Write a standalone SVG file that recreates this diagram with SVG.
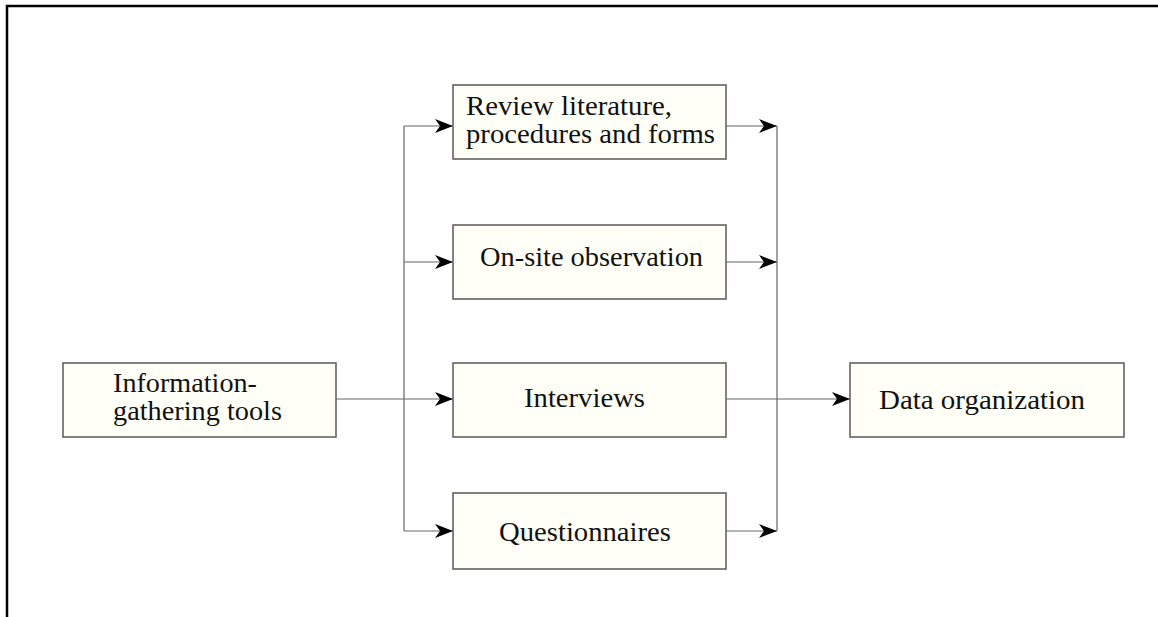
<svg xmlns="http://www.w3.org/2000/svg" width="1158" height="617" viewBox="0 0 1158 617">
<style>
.box{fill:#fffff7;stroke:#5a5a5a;stroke-width:1.5}
.t{font-family:"Liberation Serif","Times New Roman",serif;font-size:28px;fill:#111}
.c{fill:none;stroke:#666;stroke-width:1.2}
</style>
<defs>
<marker id="ah" viewBox="0 0 18 14" refX="18" refY="7" markerWidth="18" markerHeight="14" markerUnits="userSpaceOnUse" orient="auto">
<path d="M0,0 L18,7 L0,14 L5,7 Z" fill="#000"/>
</marker>
</defs>
<rect width="1158" height="617" fill="#fff"/>
<path d="M7,617 V6 H1158" fill="none" stroke="#000" stroke-width="2.5"/>
<g id="connectors">
<path class="c" d="M336,399 H453" marker-end="url(#ah)"/>
<path class="c" d="M404,126 V531"/>
<path class="c" d="M404,126 H453" marker-end="url(#ah)"/>
<path class="c" d="M404,262 H453" marker-end="url(#ah)"/>
<path class="c" d="M404,531 H453" marker-end="url(#ah)"/>
<path class="c" d="M777,126 V531"/>
<path class="c" d="M726,126 H777" marker-end="url(#ah)"/>
<path class="c" d="M726,262 H777" marker-end="url(#ah)"/>
<path class="c" d="M726,531 H777" marker-end="url(#ah)"/>
<path class="c" d="M726,399 H850" marker-end="url(#ah)"/>
</g>
<g id="info">
<rect class="box" x="63" y="363" width="273" height="74"/>
<text class="t" x="113" y="392" textLength="144" lengthAdjust="spacingAndGlyphs">Information-</text>
<text class="t" x="113" y="420" textLength="169" lengthAdjust="spacingAndGlyphs">gathering tools</text>
</g>
<g id="review">
<rect class="box" x="453" y="85" width="273" height="74"/>
<text class="t" x="466" y="115" textLength="206" lengthAdjust="spacingAndGlyphs">Review literature,</text>
<text class="t" x="466" y="143" textLength="249" lengthAdjust="spacingAndGlyphs">procedures and forms</text>
</g>
<g id="onsite">
<rect class="box" x="453" y="225" width="273" height="74"/>
<text class="t" x="480" y="266" textLength="223" lengthAdjust="spacingAndGlyphs">On-site observation</text>
</g>
<g id="interviews">
<rect class="box" x="453" y="363" width="273" height="74"/>
<text class="t" x="524" y="407" textLength="121" lengthAdjust="spacingAndGlyphs">Interviews</text>
</g>
<g id="questionnaires">
<rect class="box" x="453" y="493" width="273" height="76"/>
<text class="t" x="499" y="541" textLength="172" lengthAdjust="spacingAndGlyphs">Questionnaires</text>
</g>
<g id="data">
<rect class="box" x="850" y="363" width="274" height="74"/>
<text class="t" x="879" y="409" textLength="206" lengthAdjust="spacingAndGlyphs">Data organization</text>
</g>
</svg>
